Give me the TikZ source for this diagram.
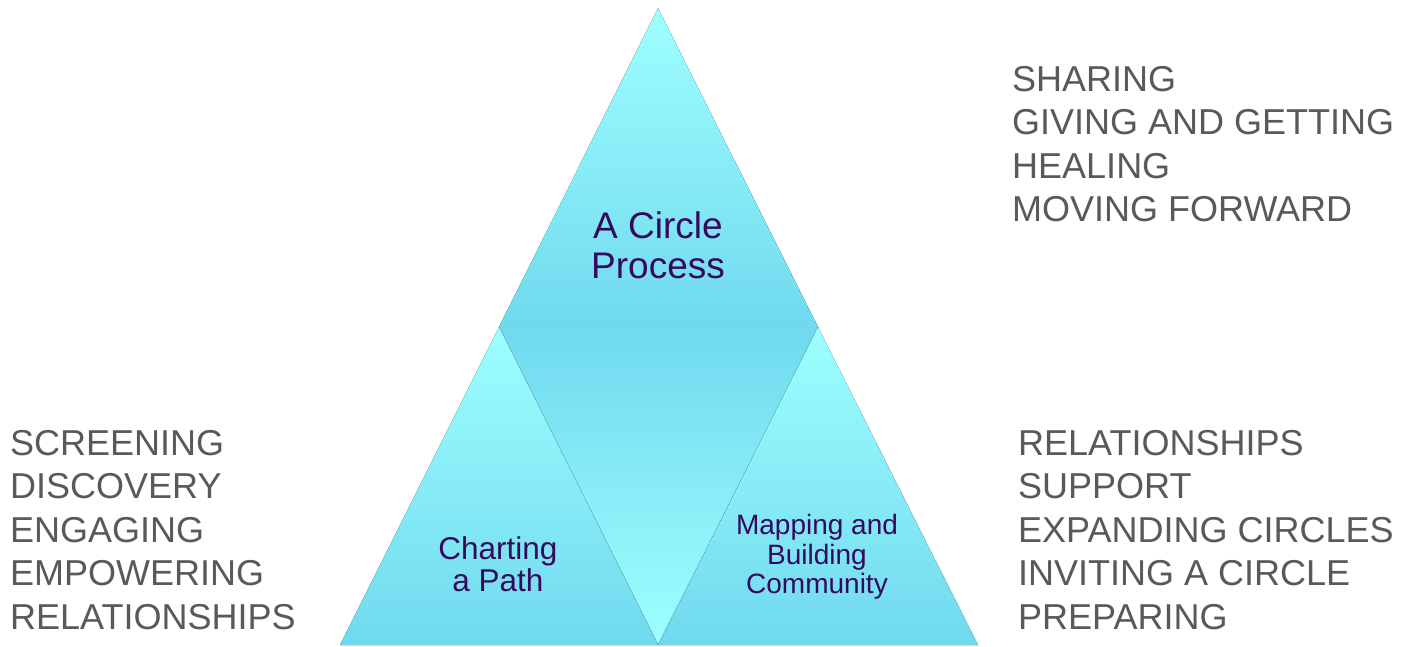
\documentclass[tikz,border=0pt]{standalone}
\usepackage{fontspec}
\setmainfont{Liberation Sans}
\definecolor{lightcy}{HTML}{9FFFFF}
\definecolor{darkcy}{HTML}{70D9EE}
\definecolor{greytxt}{HTML}{595959}
\definecolor{purptxt}{HTML}{35095E}
\begin{document}
\begin{tikzpicture}[x=1pt,y=-1pt,
  tri/.style={draw=none},
  up/.style={tri,top color=lightcy,bottom color=darkcy},
  down/.style={tri,top color=darkcy,bottom color=lightcy},
  list/.style={text=greytxt,anchor=north west,align=left,inner sep=0pt,font=\fontsize{36}{43.5}\selectfont},
  title/.style={text=purptxt,align=center,inner sep=0pt}]
\useasboundingbox (0,0) rectangle (1406,647);
\coordinate (apex) at (658,8);
\coordinate (ml) at (499,327);
\coordinate (mr) at (818,327);
\coordinate (bl) at (340,645);
\coordinate (bm) at (658,645);
\coordinate (br) at (978,645);
\fill[up] (apex) -- (ml) -- (mr) -- cycle;
\fill[down] (ml) -- (mr) -- (bm) -- cycle;
\fill[up] (ml) -- (bl) -- (bm) -- cycle;
\fill[up] (mr) -- (bm) -- (br) -- cycle;
\node[title,font=\fontsize{37}{40}\selectfont] (top) at (658,245) {A Circle\\Process};
\node[title,font=\fontsize{31.5}{32}\selectfont] (left) at (498,564) {Charting\\a Path};
\node[title,font=\fontsize{28}{29.5}\selectfont] (right) at (817,557) {Mapping and\\Building\\Community};
\node[list] (tr) at (1012,66) {SHARING\\GIVING AND GETTING\\HEALING\\MOVING FORWARD};
\node[list] (ll) at (10,430) {SCREENING\\DISCOVERY\\ENGAGING\\EMPOWERING\\RELATIONSHIPS};
\node[list] (rl) at (1018,430) {RELATIONSHIPS\\SUPPORT\\EXPANDING CIRCLES\\INVITING A CIRCLE\\PREPARING};
\end{tikzpicture}
\end{document}
